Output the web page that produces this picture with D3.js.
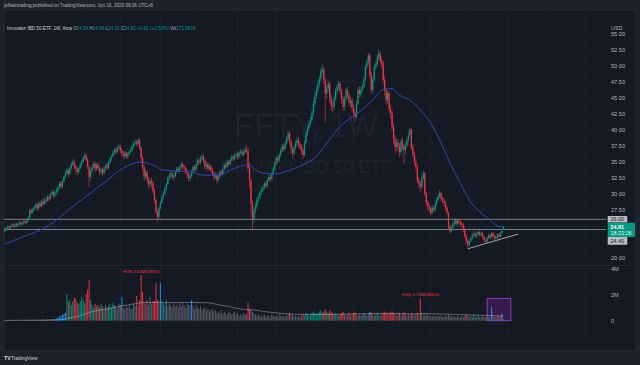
<!DOCTYPE html>
<html>
<head>
<meta charset="utf-8">
<script src="https://cdn.jsdelivr.net/npm/d3@7"></script>
<style>
  html, body { margin: 0; padding: 0; background: #1e222d; }
  svg { display: block; font-family: "Liberation Sans", Arial, sans-serif; }
</style>
</head>
<body>
<svg id="chart" width="640" height="365"></svg>
<script>
// FFTY weekly candles, Jan 2 2017 .. Jun 12 2023 (one value per week)
const startWeek = "2017-01-02";
const firstOpen = 24.1;
const legendOHLC = [24.34, 24.96, 24.31, 24.81];
const legendVolumeK = 171.981;

const closes = [
  24.3,24.6,24.8,24.6,24.9,25.1,24.9,25.2,25.0,25.3,25.5,25.2,25.4,25.7,25.5,25.8,26.3,27.4,27.1,27.5,27.9,28.3,27.7,28.5,28.1,28.8,28.4,29.1,28.9,29.5,29.2,29.8,30.3,29.7,30.2,30.5,31.0,31.6,31.1,31.9,32.6,33.2,33.7,33.1,34.0,34.6,35.0,34.3,33.8,33.4,34.0,34.6,
  35.0,35.6,36.0,35.3,34.2,32.6,33.6,34.2,34.7,33.9,34.5,34.0,33.4,33.8,33.2,33.9,34.4,34.0,34.9,35.4,35.8,36.4,36.9,36.5,37.1,37.4,36.8,36.3,35.9,36.4,35.8,36.2,36.6,36.8,37.4,37.9,38.1,37.8,38.4,37.2,35.6,34.2,32.7,33.4,32.2,31.4,32.0,31.7,30.4,29.0,27.2,26.4,
  27.8,28.6,29.5,30.1,30.8,31.5,32.4,32.9,33.2,32.6,32.7,33.4,33.9,33.6,34.2,34.6,34.1,34.0,33.5,33.0,32.4,32.7,33.5,34.2,33.8,34.6,35.2,34.9,35.5,35.8,35.1,34.2,34.6,33.9,34.3,33.7,33.2,32.6,32.9,32.1,32.7,33.4,33.1,33.8,34.5,34.2,35.0,34.6,35.3,35.8,35.4,36.0,
  36.2,35.8,36.4,36.6,36.1,36.5,36.9,36.7,34.0,32.0,28.4,25.9,27.4,28.0,29.1,29.5,30.2,30.6,31.0,31.6,31.2,32.1,32.6,32.3,33.2,33.9,34.8,35.6,35.2,36.0,36.8,37.4,37.0,37.9,38.6,39.4,38.2,37.0,36.3,37.2,37.9,38.4,37.7,37.3,36.8,36.0,38.0,39.4,40.2,40.9,41.5,42.6,
  44.1,45.2,46.2,47.2,48.0,49.2,49.4,47.8,45.7,46.4,47.2,45.0,43.8,43.6,44.9,46.1,46.7,47.2,46.0,44.8,43.6,44.8,46.2,45.4,44.2,44.6,43.4,42.6,42.0,44.1,46.2,45.6,46.3,46.7,47.9,49.8,50.6,51.6,48.6,46.2,47.8,49.8,50.2,51.3,51.9,50.8,50.4,47.8,46.1,44.6,45.7,43.2,
  42.6,40.5,38.6,37.3,38.0,37.3,36.5,38.2,37.4,36.8,37.6,38.4,39.2,40.0,37.3,36.2,35.0,34.2,32.1,31.6,31.1,32.4,33.2,30.1,28.6,28.0,27.6,27.0,27.8,27.5,28.4,29.0,29.6,30.1,29.2,28.9,28.5,27.8,27.0,24.8,24.1,24.6,25.4,25.9,25.3,25.8,25.6,25.3,25.1,24.4,23.3,22.6,
  22.0,22.6,23.0,23.5,23.8,23.4,23.6,24.0,23.6,23.8,23.2,22.8,22.5,23.1,23.5,23.2,23.8,23.4,23.0,23.2,23.6,23.3,23.9,24.2,24.81
];
const highs = [
  24.6,24.8,25.0,25.1,25.1,25.4,25.3,25.4,25.5,25.5,25.8,25.7,25.6,25.9,26.0,26.0,26.5,27.6,27.7,27.8,28.2,28.6,28.5,28.8,28.9,29.1,29.2,29.4,29.5,29.8,29.9,30.1,30.6,30.5,30.5,30.9,31.3,31.9,32.0,32.2,32.9,33.5,34.0,34.0,34.3,34.9,35.4,35.3,34.6,34.1,34.3,34.8,
  35.3,35.9,36.4,36.3,35.6,34.5,33.9,34.6,35.0,35.0,34.8,34.9,34.3,34.1,34.1,34.2,34.7,34.8,35.2,35.7,36.1,36.7,37.2,37.3,37.5,37.8,37.7,37.1,36.7,36.7,36.7,36.5,36.9,37.2,37.7,38.2,38.5,38.4,38.7,38.6,37.4,35.9,34.5,33.9,33.7,32.6,32.5,32.4,32.0,30.8,29.3,27.6,
  28.0,28.9,29.8,30.4,31.1,31.8,32.7,33.2,33.6,33.5,33.1,33.7,34.2,34.3,34.5,34.9,34.9,34.5,34.3,33.8,33.3,33.1,33.8,34.5,34.5,34.9,35.5,35.5,35.9,36.2,36.1,35.4,35.0,34.9,34.6,34.6,34.0,33.5,33.3,33.2,33.0,33.7,33.7,34.1,34.8,34.8,35.3,35.3,35.6,36.1,36.1,36.3,
  36.6,36.5,36.7,37.0,36.9,36.9,37.3,37.5,37.3,34.8,32.5,28.9,28.0,28.6,29.4,29.9,30.5,31.0,31.4,31.9,31.9,32.4,33.0,33.0,33.5,34.2,35.1,35.9,36.0,36.4,37.1,37.8,37.8,38.3,39.0,39.8,39.7,38.5,37.4,37.6,38.3,38.9,38.8,38.1,37.7,37.2,38.4,39.8,40.6,41.4,42.0,43.0,
  44.6,45.7,46.7,47.7,48.5,49.6,50.2,49.8,48.1,47.0,47.7,47.4,45.6,44.4,45.3,46.5,47.2,47.6,47.5,46.4,45.2,45.2,46.6,46.7,45.8,45.1,45.0,43.9,43.1,44.5,46.6,46.8,46.8,47.2,48.3,50.2,51.1,52.0,51.9,49.0,48.2,50.2,50.8,51.8,52.5,52.3,51.4,50.8,48.4,46.6,46.2,46.0,
  43.9,43.0,41.0,39.2,38.6,38.5,37.9,38.6,38.8,37.8,38.0,38.9,39.6,40.4,40.2,37.8,36.6,35.6,34.6,32.6,32.0,32.8,33.6,33.4,30.4,29.0,28.5,28.0,28.2,28.2,28.7,29.4,30.0,30.6,30.3,29.6,29.3,28.9,28.1,27.2,25.2,25.0,25.7,26.3,26.1,26.1,26.1,25.9,25.6,25.4,24.7,23.7,
  22.9,22.9,23.3,23.8,24.2,24.1,24.0,24.3,24.2,24.1,24.0,23.4,23.0,23.3,23.8,23.7,24.0,24.0,23.6,23.5,23.8,23.8,24.1,24.4,24.96
];
const lows = [
  23.9,24.1,24.4,24.4,24.4,24.7,24.7,24.8,24.8,24.8,25.1,24.9,25.0,25.2,25.2,25.3,25.6,26.2,26.8,26.9,27.3,27.7,27.3,27.5,27.8,27.9,28.0,28.2,28.5,28.7,28.8,29.0,29.6,29.3,29.4,29.9,30.2,30.8,30.7,30.9,31.7,32.3,32.9,32.6,32.9,33.7,34.3,33.9,33.2,32.9,33.1,33.8,
  34.3,34.8,35.3,35.0,33.8,31.0,32.2,33.3,33.9,33.4,33.6,33.6,32.9,33.0,32.8,33.0,33.6,33.7,33.8,34.6,35.1,35.6,36.1,36.1,36.3,36.8,36.4,35.8,35.4,35.6,35.4,35.5,35.9,36.3,36.5,37.1,37.6,37.4,37.5,36.8,35.0,33.6,32.1,32.3,31.6,30.8,31.0,31.0,30.0,28.5,26.8,25.6,
  26.1,27.5,28.4,29.2,29.8,30.5,31.3,32.1,32.5,32.2,32.1,32.5,33.1,33.3,33.4,33.9,33.7,33.6,33.1,32.5,31.9,32.0,32.5,33.2,33.4,33.6,34.3,34.5,34.6,35.2,34.8,33.8,33.9,33.5,33.6,33.3,32.8,32.1,32.3,31.6,31.9,32.4,32.8,32.9,33.6,33.9,34.0,34.3,34.4,35.0,35.0,35.2,
  35.6,35.3,35.5,36.1,35.7,35.9,36.2,36.3,33.4,31.0,26.4,24.3,25.4,26.8,27.6,28.6,29.1,29.8,30.3,30.7,30.8,31.0,31.8,31.9,32.0,32.9,33.6,34.5,34.7,34.9,35.7,36.5,36.5,36.8,37.6,38.3,37.6,36.2,35.5,36.0,36.9,37.5,37.2,36.8,36.2,35.4,35.8,37.7,39.0,39.8,40.5,41.2,
  42.2,43.6,44.8,45.7,46.6,47.5,48.6,47.0,41.2,44.8,45.9,44.2,42.9,42.7,43.1,44.5,45.6,46.2,45.5,44.1,42.9,43.0,44.4,44.9,43.7,43.6,42.8,41.9,41.2,41.7,43.8,45.0,45.1,45.8,46.3,47.5,49.3,50.1,48.0,45.6,45.8,47.4,49.3,49.8,50.8,50.2,49.7,47.2,45.4,43.9,44.1,42.7,
  41.8,39.8,37.8,36.4,36.7,36.6,35.8,36.1,36.8,34.7,36.2,37.2,38.0,38.8,36.9,35.7,34.4,33.5,31.6,30.9,30.3,30.8,31.9,29.7,28.1,27.4,27.0,26.6,26.7,27.1,27.2,28.1,28.7,29.3,28.8,28.5,28.0,27.4,26.6,24.3,23.8,23.9,24.3,25.1,24.9,25.0,25.2,24.9,24.7,24.0,23.0,22.2,
  21.5,21.8,22.3,22.8,23.2,23.1,23.1,23.4,23.3,23.3,22.9,22.5,22.2,22.3,22.9,22.9,23.0,23.2,22.7,22.8,23.0,23.0,23.2,23.7,24.31
];
// weekly volume, millions
const volumes = [
  0.03,0.02,0.04,0.03,0.02,0.05,0.03,0.04,0.02,0.03,0.04,0.03,0.05,0.02,0.03,0.04,0.06,0.08,0.05,0.04,0.05,0.06,0.04,0.07,0.05,0.06,0.08,0.05,0.07,0.09,0.08,0.10,0.12,0.09,0.14,0.18,0.25,0.32,0.38,0.45,0.52,0.62,2.0,1.4,1.6,1.2,1.5,1.8,1.7,1.4,1.3,1.5,
  1.85,1.6,1.4,2.0,2.4,3.1,1.6,1.2,1.0,1.3,1.1,1.2,1.0,1.3,1.1,0.9,1.2,1.0,1.1,1.3,1.0,1.4,1.2,1.1,0.9,1.3,1.2,1.8,1.0,0.9,1.1,1.0,1.2,0.9,1.0,1.3,1.1,1.9,1.2,1.6,3.5,2.2,1.4,1.3,1.6,1.2,1.8,1.3,1.5,1.5,2.9,1.6,
  1.4,2.9,1.5,1.3,1.2,1.6,1.1,1.3,1.2,1.0,1.3,1.1,1.2,1.0,1.3,1.1,1.4,1.2,1.0,1.3,1.2,1.2,1.6,1.1,0.9,1.2,1.0,0.9,1.1,0.8,0.9,1.0,0.8,0.9,0.7,0.8,0.9,0.7,0.8,0.6,0.7,0.6,0.8,0.5,0.7,0.6,0.5,0.7,0.6,0.5,0.6,0.7,
  0.5,0.6,0.4,0.5,0.4,0.6,0.5,0.5,1.4,0.9,0.8,0.7,0.6,0.5,0.4,0.5,0.4,0.3,0.4,0.5,0.3,0.4,0.4,0.3,0.5,0.4,0.3,0.4,0.3,0.5,0.4,0.3,0.4,0.3,0.4,0.5,0.6,0.4,0.5,0.3,0.4,0.3,0.4,0.3,0.4,0.5,0.4,0.6,0.5,0.4,0.5,0.6,
  0.7,0.6,0.5,0.6,0.7,0.8,0.6,0.7,0.9,0.7,0.6,0.8,0.7,0.6,0.5,0.6,0.5,0.4,0.5,0.6,0.7,0.5,0.4,0.5,0.6,0.4,0.5,0.6,0.7,0.5,0.4,0.5,0.4,0.5,0.6,0.5,0.4,0.5,0.7,0.6,0.5,0.4,0.5,0.6,0.5,0.4,0.5,0.6,0.7,0.6,0.5,0.6,
  0.6,0.7,0.6,0.5,0.4,0.5,0.6,0.4,0.5,0.7,0.5,0.4,0.5,0.4,0.6,0.5,0.4,0.5,0.6,0.5,1.72,0.6,0.4,0.5,0.4,0.5,0.4,0.3,0.4,0.3,0.4,0.3,0.4,0.3,0.4,0.3,0.3,0.4,0.3,0.5,0.4,0.3,0.4,0.3,0.3,0.4,0.3,0.3,0.4,0.3,0.4,0.5,
  0.4,0.3,0.4,0.3,0.5,0.3,0.3,0.4,0.3,0.3,0.4,0.3,0.3,0.4,0.3,0.3,1.08,0.4,0.3,0.3,0.3,0.4,0.3,0.56,0.172
];
const blueVolumeWeeks = [36, 37, 38, 39, 40, 41, 79, 105, 126, 246, 328, 335];

// moving average (week index, value)
const maWeeks  = [0, 15, 24, 35, 46, 58, 69, 80, 91, 100, 107, 111, 125, 134, 145, 152, 164, 171, 179, 183, 192, 201, 210, 217, 226, 239, 248, 255, 261, 266, 273, 280, 287, 293, 300, 307, 313, 320, 327, 331, 336];
const maValues = [22.1, 23.5, 24.3, 25.9, 28.0, 30.1, 32.1, 34.0, 34.9, 34.5, 33.7, 33.6, 33.4, 32.9, 32.9, 33.7, 34.5, 33.4, 33.1, 33.1, 33.7, 34.5, 35.8, 37.9, 40.5, 42.8, 44.6, 46.3, 46.4, 45.4, 44.6, 43.1, 41.0, 38.4, 34.8, 31.6, 29.0, 27.2, 25.9, 25.1, 24.8];

const priceTicks = [55, 52.5, 50, 47.5, 45, 42.5, 40, 37.5, 35, 32.5, 30, 27.5, 25, 22.5, 20];
const hiddenPriceTicks = [25, 22.5];
const volumeTicks = [4, 2, 0];
const volumeTickLabels = ["4M", "2M", "0"];
const timeTickDates = ["2017-01-02","2017-07-03","2018-01-01","2018-07-02","2019-01-07","2019-07-01","2020-01-06","2020-07-06","2021-01-04","2021-07-05","2022-01-03","2022-07-04","2023-01-02","2023-07-03","2024-01-01","2024-07-01"];
const timeTickLabels = ["2017","Jul","2018","Jul","2019","Jul","2020","Jul","2021","Jul","2022","Jul","2023","Jul","2024","Jul"];

const levelPrices = [26.00, 24.40];
const trendDates = ["2022-12-26", "2023-08-21"];
const trendPrices = [21.4, 23.7];
const boxDates = ["2023-03-27", "2023-07-17"];
const boxVolumes = [0, 1.7];
const volumeNotes = [
  { week: 92, text: "HVE 3.51M(185%)" },
  { week: 280, text: "HVQ 1.72M(365%)" }
];
const countdown = "18:23:26";

// ---------------------------------------------------------------
const parse = d3.utcParse("%Y-%m-%d");
const t0 = parse(startWeek);
const last = closes.length - 1;
const bars = closes.map((c, i) => ({
  i: i,
  date: d3.utcDay.offset(t0, 7 * i),
  open: i === 0 ? firstOpen : (i === last ? legendOHLC[0] : closes[i - 1]),
  high: highs[i],
  low: lows[i],
  close: c,
  vol: volumes[i]
}));
// 50-week volume average
bars.forEach((b, i) => {
  b.volMA = d3.mean(volumes.slice(Math.max(0, i - 49), i + 1));
});

const green = "#089981", red = "#f23645", blue = "#2196f3", gray = "#5d606b";
const textCol = "#b2b5be";

const plot = { left: 4, right: 606, top: 10, bottom: 337 };
const x = d3.scaleUtc().domain([t0, bars[last].date]).range([4.5, 4.5 + 1.485 * last]);
const y = d3.scaleLinear().domain([20, 52.5]).range([257.7, 49.7]);
const yv = d3.scaleLinear().domain([0, 4]).range([320.7, 268.7]);

const svg = d3.select("#chart");

// background + frame
svg.append("rect").attr("width", 640).attr("height", 365).attr("fill", "#1e222d");
svg.append("rect")
  .attr("x", 4).attr("y", 10).attr("width", 632).attr("height", 341)
  .attr("fill", "#151924").attr("stroke", "#2a2e39").attr("stroke-width", 0.8);

const defs = svg.append("defs");
defs.append("clipPath").attr("id", "plotClip").append("rect")
  .attr("x", plot.left).attr("y", plot.top)
  .attr("width", plot.right - plot.left).attr("height", plot.bottom - plot.top);
defs.append("clipPath").attr("id", "axisClip").append("rect")
  .attr("x", 4.5).attr("y", 10).attr("width", 631).attr("height", 341);
defs.append("clipPath").attr("id", "priceAxisClip").append("rect")
  .attr("x", 606).attr("y", 32).attr("width", 30).attr("height", 235);

// grid
const grid = svg.append("g").attr("clip-path", "url(#plotClip)")
  .attr("stroke", "#1f2330").attr("stroke-width", 0.8);
grid.selectAll(".vg").data(timeTickDates).enter().append("line")
  .attr("x1", d => x(parse(d))).attr("x2", d => x(parse(d)))
  .attr("y1", plot.top).attr("y2", plot.bottom);
grid.selectAll(".hg").data(priceTicks).enter().append("line")
  .attr("x1", plot.left).attr("x2", plot.right)
  .attr("y1", d => y(d)).attr("y2", d => y(d));
grid.selectAll(".vgv").data(volumeTicks.filter(d => d > 0)).enter().append("line")
  .attr("x1", plot.left).attr("x2", plot.right)
  .attr("y1", d => yv(d)).attr("y2", d => yv(d));
// pane separator
svg.append("line").attr("x1", 4).attr("x2", 636).attr("y1", 265.5).attr("y2", 265.5)
  .attr("stroke", "#232733").attr("stroke-width", 0.8);

// watermark
const wm = svg.append("g").attr("fill", "rgba(178,181,190,0.07)").attr("text-anchor", "middle");
wm.append("text").attr("x", 306).attr("y", 137).attr("font-size", 32.5).text("FFTY, 1W");
wm.append("text").attr("x", 306).attr("y", 173).attr("font-size", 17.8).text("Innovator IBD 50 ETF");

const body = svg.append("g").attr("clip-path", "url(#plotClip)");

// horizontal levels
body.selectAll(".level").data(levelPrices).enter().append("line")
  .attr("x1", plot.left).attr("x2", plot.right)
  .attr("y1", d => y(d)).attr("y2", d => y(d))
  .attr("stroke", "#8a8d96").attr("stroke-width", 0.9);

// last price line
body.append("line")
  .attr("x1", plot.left).attr("x2", plot.right)
  .attr("y1", y(closes[last])).attr("y2", y(closes[last]))
  .attr("stroke", green).attr("stroke-width", 0.7).attr("stroke-dasharray", "1,1.5").attr("opacity", 0.6);

// purple box in volume pane
body.append("rect")
  .attr("x", x(parse(boxDates[0]))).attr("width", x(parse(boxDates[1])) - x(parse(boxDates[0])))
  .attr("y", yv(boxVolumes[1])).attr("height", yv(boxVolumes[0]) - yv(boxVolumes[1]))
  .attr("fill", "rgba(123,31,162,0.32)").attr("stroke", "#9c4dcc").attr("stroke-width", 0.8);

// volume bars
const volColor = b => {
  if (blueVolumeWeeks.includes(b.i)) return blue;
  if (b.vol < b.volMA) return gray;
  return b.close >= b.open ? green : red;
};
body.selectAll(".vol").data(bars).enter().append("rect")
  .attr("x", d => x(d.date) - 0.55).attr("width", 1.1)
  .attr("y", d => yv(d.vol)).attr("height", d => yv(0) - yv(d.vol))
  .attr("fill", volColor).attr("opacity", 0.85);

// volume average
body.append("path").datum(bars)
  .attr("d", d3.line().x(d => x(d.date)).y(d => yv(d.volMA)))
  .attr("fill", "none").attr("stroke", "rgba(200,203,210,0.55)").attr("stroke-width", 0.8);

// volume notes
body.selectAll(".note").data(volumeNotes).enter().append("text")
  .attr("x", d => x(bars[d.week].date)).attr("y", d => yv(bars[d.week].vol) - 2)
  .attr("text-anchor", "middle").attr("font-size", 4.4).attr("fill", red)
  .text(d => d.text);

// candles
const candle = body.selectAll(".candle").data(bars).enter().append("g");
candle.append("line")
  .attr("x1", d => x(d.date)).attr("x2", d => x(d.date))
  .attr("y1", d => y(d.high)).attr("y2", d => y(d.low))
  .attr("stroke", d => d.close >= d.open ? green : red).attr("stroke-width", 0.6);
candle.append("rect")
  .attr("x", d => x(d.date) - 0.6).attr("width", 1.2)
  .attr("y", d => y(Math.max(d.open, d.close)))
  .attr("height", d => Math.max(0.5, Math.abs(y(d.open) - y(d.close))))
  .attr("fill", d => d.close >= d.open ? green : red);

// moving average
const maPts = maWeeks.map((w, k) => [x(d3.utcDay.offset(t0, 7 * w)), y(maValues[k])]);
body.append("path").datum(maPts)
  .attr("d", d3.line().curve(d3.curveMonotoneX))
  .attr("fill", "none").attr("stroke", "#2f4ca8").attr("stroke-width", 1);

// trend line
body.append("line")
  .attr("x1", x(parse(trendDates[0]))).attr("y1", y(trendPrices[0]))
  .attr("x2", x(parse(trendDates[1]))).attr("y2", y(trendPrices[1]))
  .attr("stroke", "#b2b5be").attr("stroke-width", 0.9);

// price axis
const pa = svg.append("g").attr("clip-path", "url(#priceAxisClip)")
  .attr("font-size", 5.6).attr("fill", textCol);
pa.selectAll("text").data(priceTicks.filter(d => !hiddenPriceTicks.includes(d))).enter().append("text")
  .attr("x", 611).attr("y", d => y(d)).attr("dy", "0.35em")
  .text(d => d3.format(".2f")(d));
svg.append("text").attr("x", 611).attr("y", 28.3).attr("dy", "0.35em")
  .attr("font-size", 5.4).attr("fill", textCol).text("USD");

// volume axis
svg.append("g").attr("font-size", 5.6).attr("fill", textCol)
  .selectAll("text").data(volumeTicks).enter().append("text")
  .attr("x", 611).attr("y", d => yv(d)).attr("dy", "0.35em")
  .text((d, i) => volumeTickLabels[i]);

// price labels (stacked so they do not overlap)
const tags = [
  { price: levelPrices[0], h: 6.6, w: 19.6, fill: "#b8bbc3", lines: [d3.format(".2f")(levelPrices[0])], ink: "#131722" },
  { price: closes[last], h: 14.4, w: 27.3, fill: green, lines: [d3.format(".2f")(closes[last]), countdown], ink: "#ffffff" },
  { price: levelPrices[1], h: 7.7, w: 19.6, fill: "#b8bbc3", lines: [d3.format(".2f")(levelPrices[1])], ink: "#131722" }
];
let cursor = -Infinity;
tags.forEach(t => {
  let top = y(t.price) - (t.lines.length > 1 ? 4.2 : t.h / 2);
  if (top < cursor) top = cursor;
  t.top = top;
  cursor = top + t.h;
});
const tg = svg.append("g");
tags.forEach(t => {
  tg.append("rect").attr("x", 607.7).attr("y", t.top).attr("width", t.w).attr("height", t.h)
    .attr("rx", 0.6).attr("fill", t.fill);
  t.lines.forEach((s, k) => {
    tg.append("text").attr("x", 610.5).attr("y", t.top + (t.lines.length > 1 ? 4.2 + k * 6.3 : t.h / 2))
      .attr("dy", "0.35em").attr("font-size", 5.4).attr("fill", t.ink)
      .attr("font-weight", k === 0 && t.lines.length > 1 ? "bold" : "normal")
      .attr("opacity", k === 1 ? 0.9 : 1)
      .text(s);
  });
});

// time axis
const ta = svg.append("g").attr("clip-path", "url(#axisClip)")
  .attr("transform", "translate(0,341)")
  .call(d3.axisBottom(x).tickValues(timeTickDates.map(parse)).tickSize(0)
    .tickFormat((d, i) => timeTickLabels[i]));
ta.select(".domain").remove();
ta.selectAll("text").attr("font-size", 5.5).attr("fill", textCol)
  .attr("font-family", "Liberation Sans, Arial, sans-serif").attr("dy", "0.35em").attr("y", 3.7);

// header line
svg.append("text").attr("x", 4).attr("y", 6.8).attr("font-size", 4.6).attr("fill", textCol)
  .text("jeffsantrading published on TradingView.com, Jun 16, 2023 09:36 UTC+8");

// legend
const lg = svg.append("text").attr("x", 7).attr("y", 29.6).attr("font-size", 4.6).attr("fill", "#d1d4dc");
lg.append("tspan").text("Innovator IBD 50 ETF, 1W, Arca ");
["O", "H", "L", "C"].forEach((k, i) => {
  lg.append("tspan").attr("fill", textCol).text(" " + k);
  lg.append("tspan").attr("fill", green).text(d3.format(".2f")(legendOHLC[i]));
});
const chg = closes[last] - closes[last - 1];
lg.append("tspan").attr("fill", green)
  .text("  " + d3.format("+.2f")(chg) + " (" + d3.format("+.2%")(chg / closes[last - 1]) + ")");
lg.append("tspan").attr("fill", textCol).text("  Vol");
lg.append("tspan").attr("fill", green).text(d3.format(".3f")(legendVolumeK) + "K");

// footer logo
const ft = svg.append("g").attr("fill", "#d1d4dc");
ft.append("text").attr("x", 4).attr("y", 359.5).attr("font-size", 5.2).attr("font-weight", "bold").text("TV");
ft.append("text").attr("x", 11).attr("y", 359.5).attr("font-size", 4.8).text("TradingView");
</script>
</body>
</html>
